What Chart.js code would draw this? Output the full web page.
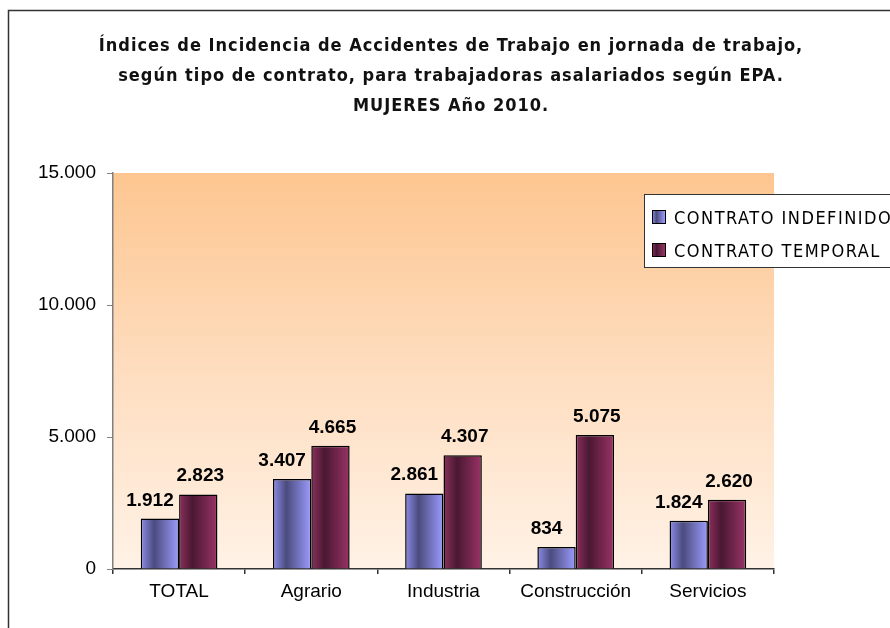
<!DOCTYPE html>
<html>
<head>
<meta charset="utf-8">
<script src="https://cdn.jsdelivr.net/npm/chart.js@4.4.1/dist/chart.umd.min.js"></script>
<style>
	html, body { margin: 0; padding: 0; background: #fff; }
	#grafico { display: block; }
</style>
</head>
<body>
<canvas id="grafico" width="890" height="628"></canvas>
<script>
var titulo = [
	'Índices de Incidencia de Accidentes de Trabajo en jornada de trabajo,',
	'según tipo de contrato, para trabajadoras asalariados según EPA.',
	'MUJERES Año 2010.'
];
var categorias = ['TOTAL', 'Agrario', 'Industria', 'Construcción', 'Servicios'];
var series = ['CONTRATO INDEFINIDO', 'CONTRATO TEMPORAL'];
var contratoIndefinido = [1912, 3407, 2861, 834, 1824];
var contratoTemporal = [2823, 4665, 4307, 5075, 2620];
var ticksY = [0, 5000, 10000, 15000];

var FONTE_EIXO = '"Liberation Sans", Arial, sans-serif';
var FONTE_TITULO = '"DejaVu Sans Condensed", "DejaVu Sans", sans-serif';
var PERCENT_CATEGORIA = 0.58;

// cores: claro nas bordas, escuro a um terço da barra
var cores = [
	{ claro: '#9C9CFF', medio: '#8C8CEA', escuro: '#4B4B7E', deslocRotulo: -10 },
	{ claro: '#993366', medio: '#8C2F5E', escuro: '#4A1832', deslocRotulo: 2 }
];

function formatar(v) {
	return v.toString().replace(/\B(?=(\d{3})+(?!\d))/g, '.');
}

function gradienteBarra(ctx, esquerda, largura, cor) {
	var g = ctx.createLinearGradient(esquerda, 0, esquerda + largura, 0);
	g.addColorStop(0, cor.medio);
	g.addColorStop(0.35, cor.escuro);
	g.addColorStop(1, cor.claro);
	return g;
}

// gradiente horizontal calculado a partir da escala x
function corBarra(context) {
	var chart = context.chart;
	var cor = cores[context.datasetIndex];
	var x = chart.scales.x;
	if (!chart.chartArea || !x || context.dataIndex === undefined) {
		return cor.claro;
	}
	var larguraCat = chart.chartArea.width / categorias.length;
	var larguraBarra = larguraCat * PERCENT_CATEGORIA / series.length;
	var centro = x.getPixelForValue(context.dataIndex);
	var esquerda = centro - larguraCat * PERCENT_CATEGORIA / 2 + context.datasetIndex * larguraBarra;
	return gradienteBarra(chart.ctx, esquerda, larguraBarra, cor);
}

var fundoPlugin = {
	id: 'fundo',
	beforeDraw: function(chart) {
		var ctx = chart.ctx;
		var a = chart.chartArea;
		ctx.save();
		ctx.fillStyle = '#ffffff';
		ctx.fillRect(0, 0, chart.width, chart.height);

		// moldura externa (lados direito e inferior ficam fora do quadro)
		ctx.strokeStyle = '#333333';
		ctx.lineWidth = 1.5;
		ctx.strokeRect(8.5, 10.5, chart.width + 20, chart.height + 20);

		var g = ctx.createLinearGradient(0, a.top, 0, a.bottom);
		g.addColorStop(0, '#FDC690');
		g.addColorStop(0.5, '#FEDDBF');
		g.addColorStop(1, '#FFF2E6');
		ctx.fillStyle = g;
		ctx.fillRect(a.left, a.top, a.width, a.height);

		// título centrado na moldura, não na área do gráfico
		ctx.font = 'bold 18px ' + FONTE_TITULO;
		ctx.letterSpacing = '1px';
		ctx.fillStyle = '#111111';
		ctx.textAlign = 'center';
		ctx.textBaseline = 'alphabetic';
		titulo.forEach(function(linha, i) {
			ctx.fillText(linha, 451, 51 + i * 30);
		});
		ctx.restore();
	}
};

var rotulosPlugin = {
	id: 'rotulos',
	afterDatasetsDraw: function(chart) {
		var ctx = chart.ctx;
		ctx.save();
		ctx.font = 'bold 19px ' + FONTE_EIXO;
		ctx.fillStyle = '#000000';
		ctx.textAlign = 'center';
		ctx.textBaseline = 'alphabetic';
		chart.data.datasets.forEach(function(ds, i) {
			chart.getDatasetMeta(i).data.forEach(function(barra, j) {
				ctx.fillText(formatar(ds.data[j]), barra.x + cores[i].deslocRotulo, barra.y - 13);
			});
		});
		ctx.restore();
	}
};

var legendaPlugin = {
	id: 'legenda',
	afterDraw: function(chart) {
		var ctx = chart.ctx;
		ctx.save();
		ctx.fillStyle = '#ffffff';
		ctx.fillRect(644.5, 194.5, 300, 73);
		ctx.strokeStyle = '#333333';
		ctx.lineWidth = 1;
		ctx.strokeRect(644.5, 194.5, 300, 73);

		ctx.font = '18px ' + FONTE_TITULO;
		ctx.letterSpacing = '1.5px';
		ctx.textBaseline = 'alphabetic';
		ctx.textAlign = 'left';
		series.forEach(function(nome, i) {
			var y = 217 + i * 33;
			ctx.fillStyle = gradienteBarra(ctx, 652, 13, cores[i]);
			ctx.fillRect(652.5, y - 6.5, 13, 13);
			ctx.strokeStyle = '#000000';
			ctx.strokeRect(652.5, y - 6.5, 13, 13);
			ctx.fillStyle = '#000000';
			ctx.fillText(nome, 674, y + 7);
		});
		ctx.restore();
	}
};

var grafico = new Chart(document.getElementById('grafico'), {
	type: 'bar',
	data: {
		labels: categorias,
		datasets: [{
			label: series[0],
			data: contratoIndefinido,
			backgroundColor: corBarra,
			borderColor: '#000000',
			borderWidth: 1.5
		}, {
			label: series[1],
			data: contratoTemporal,
			backgroundColor: corBarra,
			borderColor: '#000000',
			borderWidth: 1.5
		}]
	},
	options: {
		responsive: false,
		animation: false,
		devicePixelRatio: 1,
		layout: { padding: { left: 10, right: 116, top: 173, bottom: 19 } },
		datasets: {
			bar: { categoryPercentage: PERCENT_CATEGORIA, barPercentage: 1 }
		},
		plugins: {
			legend: { display: false },
			tooltip: { enabled: false },
			title: { display: false }
		},
		scales: {
			x: {
				grid: { drawOnChartArea: false, drawTicks: true, tickLength: 5, color: '#333333', lineWidth: 1.5 },
				border: { display: true, color: '#333333', width: 1.5 },
				ticks: { color: '#000000', padding: 6, font: { family: FONTE_EIXO, size: 19 } },
				afterFit: function(scale) { scale.height = 40; }
			},
			y: {
				min: ticksY[0],
				max: ticksY[ticksY.length - 1],
				grid: { drawOnChartArea: false, drawTicks: true, tickLength: 6, color: '#808080' },
				border: { display: true, color: '#808080', width: 1.5 },
				afterBuildTicks: function(scale) {
					scale.ticks = ticksY.map(function(v) { return { value: v }; });
				},
				ticks: {
					color: '#000000',
					padding: 11,
					font: { family: FONTE_EIXO, size: 19 },
					callback: function(v) { return formatar(v); }
				},
				afterFit: function(scale) { scale.width = 103; }
			}
		}
	},
	plugins: [fundoPlugin, rotulosPlugin, legendaPlugin]
});
</script>
</body>
</html>
